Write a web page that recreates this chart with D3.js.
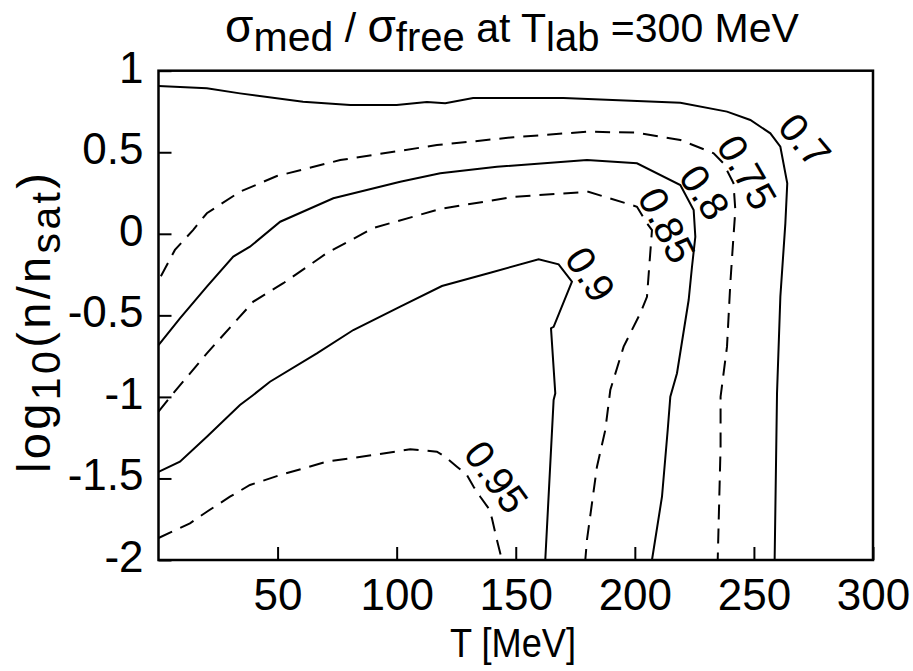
<!DOCTYPE html>
<html>
<head>
<meta charset="utf-8">
<script src="https://cdn.jsdelivr.net/npm/d3@7"></script>
<style>
  html, body { margin: 0; padding: 0; background: #fff; }
  svg { display: block; }
  text { font-family: "Liberation Sans", Arial, Helvetica, sans-serif; fill: #000; }
</style>
</head>
<body>
<svg id="chart" width="913" height="671"></svg>
<script>
// ---- Data (T in MeV, log10(n/n_sat)) ----
const xTicks = [50, 100, 150, 200, 250, 300];
const yTicks = [1, 0.5, 0, -0.5, -1, -1.5, -2];

const c070 = [[0,0.906],[20.3,0.892],[34.2,0.861],[60.7,0.810],[80.5,0.790],[100,0.790],[112.7,0.808],[120.4,0.800],[132.1,0.833],[170,0.833],[219.1,0.804],[238.7,0.749],[248.5,0.698],[256.9,0.616],[261.1,0.534],[264,0.310],[263.2,0.064],[261.1,-0.386],[259.7,-0.978],[258.7,-2]];
const c075 = [[1,-0.26],[6.9,-0.099],[14.5,0.023],[20.3,0.126],[34.2,0.258],[49.7,0.354],[76.3,0.452],[116.9,0.544],[149.1,0.592],[179.9,0.626],[200.9,0.620],[219.1,0.575],[233.1,0.494],[237.2,0.432],[241.4,0.311],[242.2,0.146],[241.4,-0.020],[240.1,-0.302],[238.7,-0.692],[236,-0.999],[236,-1.305],[234.8,-2]];
const c080 = [[0,-0.682],[9,-0.518],[20.3,-0.324],[31.4,-0.140],[38.4,-0.079],[51.1,0.074],[73.4,0.218],[101.5,0.319],[118.3,0.371],[142.1,0.411],[179.9,0.452],[200.9,0.432],[219.1,0.299],[224.7,0.146],[225.4,-0.018],[224,-0.202],[222.6,-0.406],[217.7,-0.855],[214.9,-0.999],[213.8,-1.203],[211.4,-1.612],[207.2,-2]];
const c085 = [[0,-1.09],[6.2,-0.978],[20.3,-0.733],[32.9,-0.528],[39.8,-0.416],[52.4,-0.303],[70.7,-0.118],[90.3,0.036],[118.3,0.152],[149.1,0.227],[180.5,0.258],[200.9,0.166],[205.1,0.064],[207.2,0.023],[205.1,-0.386],[202.3,-0.487],[195.3,-0.692],[189.7,-0.958],[187.6,-1.203],[184.1,-1.428],[179.9,-1.877],[179.2,-2]];
const c090 = [[0,-1.460],[9,-1.397],[20.3,-1.244],[34.2,-1.050],[39.8,-0.988],[46.8,-0.907],[66.5,-0.733],[81.8,-0.590],[101.5,-0.447],[119,-0.320],[139.3,-0.239],[159.6,-0.156],[168,-0.187],[173.6,-0.294],[165.9,-0.570],[164.8,-0.579],[166.6,-0.978],[165.9,-1.019],[162.4,-2]];
const c095 = [[0,-1.865],[13.2,-1.775],[20.3,-1.704],[30,-1.612],[38.4,-1.540],[51.1,-1.479],[70.7,-1.397],[90.3,-1.356],[105.7,-1.321],[116.9,-1.336],[120.4,-1.367],[125.3,-1.428],[129.5,-1.479],[132.3,-1.551],[135.1,-1.612],[138.6,-1.683],[140,-1.744],[142.1,-1.877],[144.2,-2]];

const levels  = ["0.7", "0.75", "0.8", "0.85", "0.9", "0.95"];
const dashed  = [false, true, false, true, false, true];
const contours = [c070, c075, c080, c085, c090, c095];
// label anchor positions (data coords) and rotation angles
const labelPos = [[271.5,0.575],[247.3,0.379],[229.5,0.256],[213.6,0.054],[181.5,-0.247],[142,-1.489]];
const labelAng = [50, 60, 56, 63, 57, 54];

// ---- Layout ----
const svg = d3.select("#chart");
const x = d3.scaleLinear().domain([0, 300]).range([158.5, 873]);
const y = d3.scaleLinear().domain([-2, 1]).range([560, 70.7]);

// contour lines
const line = d3.line().x(d => x(d[0])).y(d => y(d[1]));
const g = svg.append("g");
contours.forEach((c, i) => {
  g.append("path")
    .attr("d", line(c))
    .attr("fill", "none")
    .attr("stroke", "#000")
    .attr("stroke-width", 2)
    .attr("stroke-dasharray", dashed[i] ? "15,9" : null);
});

// contour labels
labelPos.forEach((p, i) => {
  svg.append("text")
    .attr("transform", `translate(${x(p[0])},${y(p[1])}) rotate(${labelAng[i]})`)
    .attr("text-anchor", "middle")
    .attr("dy", "0.36em")
    .attr("font-size", 40)
    .text(levels[i]);
});

// axes
const xAxis = d3.axisBottom(x).tickValues(xTicks).tickSizeInner(-13).tickSizeOuter(0).tickPadding(19);
const yAxis = d3.axisLeft(y).tickValues(yTicks).tickSizeInner(-13).tickSizeOuter(0).tickPadding(28)
  .tickFormat(d => String(d));

const gx = svg.append("g").attr("transform", `translate(0,${y(-2)})`).call(xAxis);
const gy = svg.append("g").attr("transform", `translate(${x(0)},0)`).call(yAxis);
[gx, gy].forEach(a => {
  a.select(".domain").remove();
  a.selectAll(".tick line").attr("stroke", "#000").attr("stroke-width", 2);
  a.selectAll("text").attr("font-size", 44).attr("font-family", "Liberation Sans, Arial, sans-serif").attr("fill", "#000");
});
gx.selectAll(".tick text").attr("dy", "0.71em");
gy.selectAll(".tick text").attr("dy", "0.26em").attr("x", -15);

// frame
svg.append("rect")
  .attr("x", x(0)).attr("y", y(1))
  .attr("width", x(300) - x(0)).attr("height", y(-2) - y(1))
  .attr("fill", "none").attr("stroke", "#000").attr("stroke-width", 2.5);

// title
const title = svg.append("text").attr("x", 512).attr("y", 42).attr("text-anchor", "middle").attr("font-size", 41);
title.append("tspan").attr("font-size", 46).text("σ");
title.append("tspan").attr("font-size", 41).attr("dy", 9).text("med");
title.append("tspan").attr("dy", -9).text(" / ");
title.append("tspan").attr("font-size", 46).text("σ");
title.append("tspan").attr("font-size", 40).attr("dy", 9).text("free");
title.append("tspan").attr("dy", -9).text(" at T");
title.append("tspan").attr("font-size", 40).attr("dy", 9).text("lab");
title.append("tspan").attr("dy", -9).text(" =300 MeV");

// x label
svg.append("text").attr("x", 513).attr("y", 657).attr("text-anchor", "middle").attr("font-size", 41)
  .attr("textLength", 126).attr("lengthAdjust", "spacingAndGlyphs").text("T [MeV]");

// y label
const yl = svg.append("text").attr("transform", "translate(50,323) rotate(-90)").attr("text-anchor", "middle").attr("font-size", 47)
  .attr("textLength", 300).attr("lengthAdjust", "spacing");
yl.append("tspan").text("log");
yl.append("tspan").attr("font-size", 41).attr("dy", 10).text("10");
yl.append("tspan").attr("dy", -10).text("(n/n");
yl.append("tspan").attr("font-size", 41).attr("dy", 10).text("sat");
yl.append("tspan").attr("dy", -10).text(")");
</script>
</body>
</html>
